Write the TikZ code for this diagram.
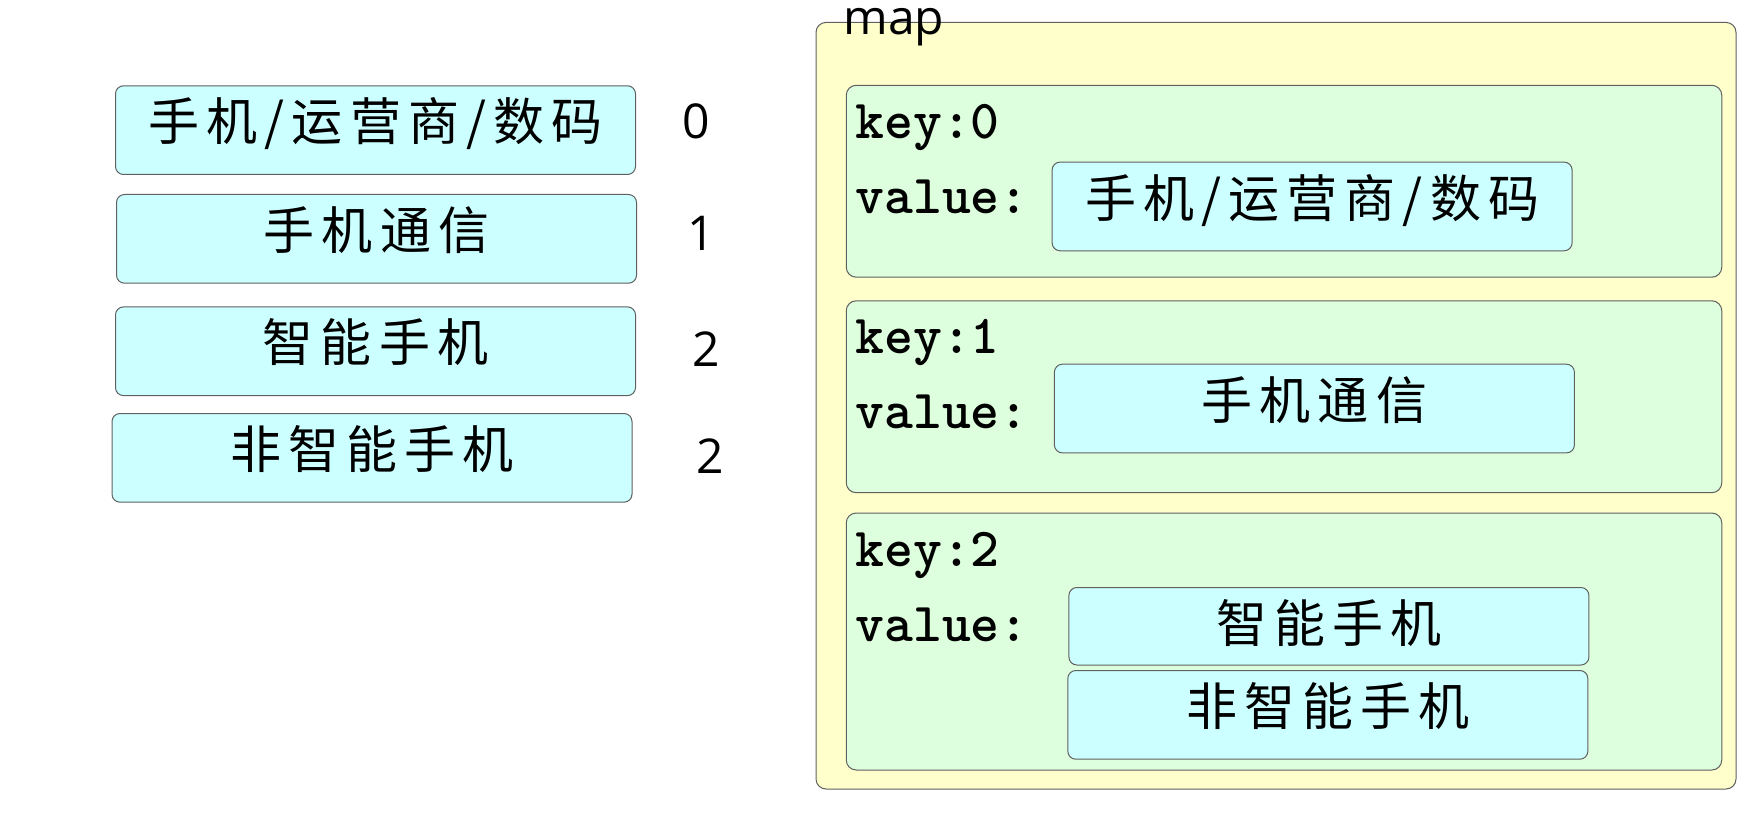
\documentclass[tikz,border=0pt]{standalone}
\usepackage{fontspec}
\newfontfamily\cjkfont[LetterSpace=14]{Noto Sans CJK SC}
\newfontfamily\labelfont{Open Sans}
\definecolor{mapyellow}{RGB}{255,255,204}
\definecolor{entrygreen}{RGB}{221,255,221}
\definecolor{catcyan}{RGB}{204,255,255}
\definecolor{edgegray}{RGB}{96,96,96}

\begin{document}
\begin{tikzpicture}[x=0.5pt,y=-0.5pt]
			\tikzset{catbox/.style={draw=edgegray, fill=catcyan, line width=0.5pt,
						rounded corners=4pt, minimum width=260pt, inner xsep=0pt,
						inner ysep=0pt, text height=27.5pt, text depth=16.85pt, anchor=north,
						font=\cjkfont\fontsize{25.5pt}{29pt}\selectfont}}
			\tikzset{mapbox/.style={draw=edgegray, fill=mapyellow, line width=0.5pt,
						rounded corners=5pt, inner sep=0pt}}
			\tikzset{entrybox/.style={draw=edgegray, fill=entrygreen, line width=0.5pt,
						rounded corners=5pt, inner sep=0pt, minimum width=437.75pt}}
			\tikzset{idnum/.style={inner sep=0pt, font=\labelfont\fontsize{24pt}{28pt}\selectfont}}
			\tikzset{kvtext/.style={inner sep=0pt, anchor=base west,
						font=\ttfamily\bfseries\fontsize{27.5pt}{30pt}\selectfont}}

				\useasboundingbox (0,0) rectangle (1760,828);

				% list of categories
				\node[catbox] (c0) at (375.5,85.3) {手机/运营商/数码};
				\node[catbox] (c1) at (376.5,194) {手机通信};
				\node[catbox] (c2) at (375.5,306.4) {智能手机};
				\node[catbox] (c3) at (372,413) {非智能手机};

				\node[idnum] (n0) at (696.7,121) {0};
				\node[idnum] (n1) at (701.7,233) {1};
				\node[idnum] (n2) at (706,349) {2};
				\node[idnum] (n3) at (710,456.5) {2};

				% the map
				\node[mapbox, minimum width=460pt, minimum height=383.3pt] (map) at (1276,405.7) {};
				\node[inner sep=0pt, anchor=base west, font=\labelfont\fontsize{24pt}{28pt}\selectfont]
					(maplabel) at (843,35) {map};

				\node[entrybox, minimum height=95.95pt] (e0) at (1284,181.25) {};
				\node[entrybox, minimum height=95.95pt] (e1) at (1284,396.75) {};
				\node[entrybox, minimum height=128.5pt] (e2) at (1284,641.5) {};

				\node[kvtext] (k0) at (855,138.3) {key:0};
				\node[kvtext] (v0) at (855,213.3) {value:};
				\node[kvtext] (k1) at (855,353.8) {key:1};
				\node[kvtext] (v1) at (855,428.8) {value:};
				\node[kvtext] (k2) at (855,566) {key:2};
				\node[kvtext] (v2) at (855,641) {value:};

				\node[catbox] (m0) at (1312.1,161.6) {手机/运营商/数码};
				\node[catbox] (m1) at (1314.4,363.7) {手机通信};
				\node[catbox, text depth=11.25pt] (m2) at (1328.9,587) {智能手机};
				\node[catbox] (m3) at (1327.8,670) {非智能手机};
		\end{tikzpicture}
\end{document}
